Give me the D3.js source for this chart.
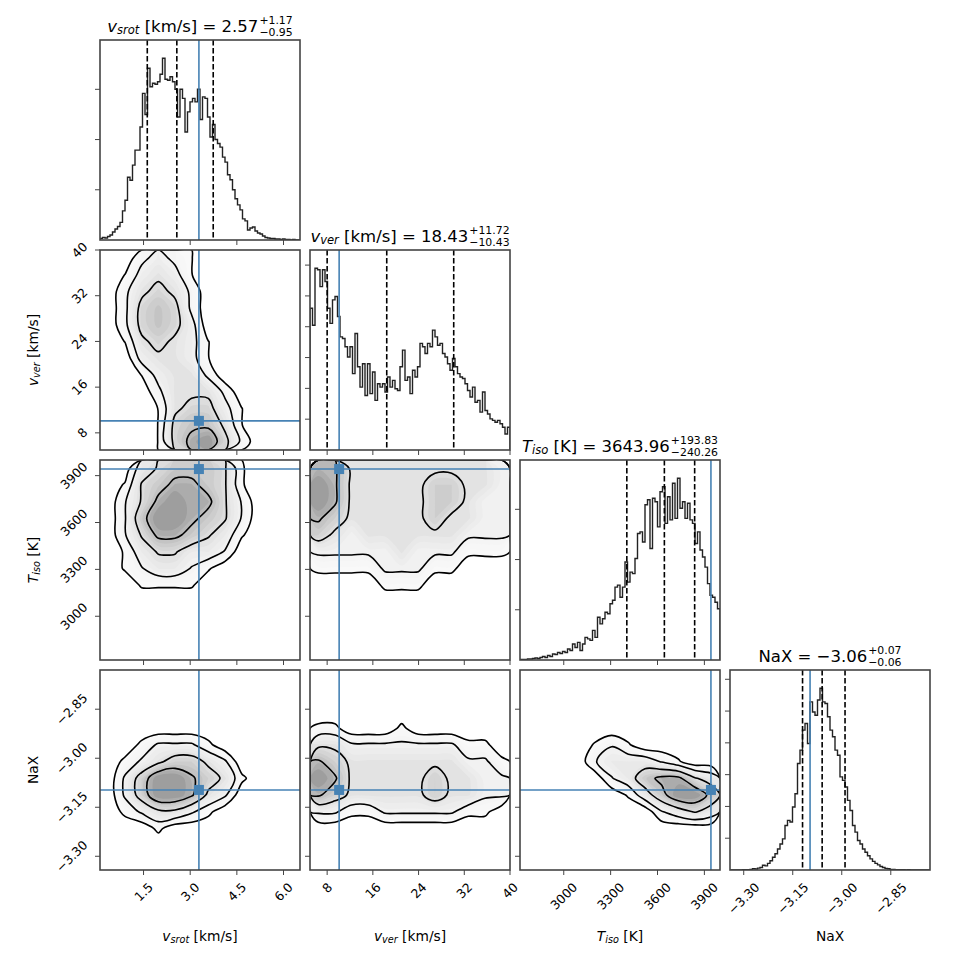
<!DOCTYPE html>
<html>
<head>
<meta charset="utf-8">
<script src="https://cdn.jsdelivr.net/npm/d3@7"></script>
<style>
  body { margin: 0; background: #fff; }
  svg text { font-family: "DejaVu Sans", sans-serif; fill: #000; }
</style>
</head>
<body>
<div id="chart"></div>
<script>
// ---- data ----
var ranges = [[0.1, 6.53], [5, 40], [2720, 4000], [-3.342, -2.73]];
var truths = [3.28, 10.1, 3942, -3.097];
var quantiles = [[1.62, 2.57, 3.74], [8.0, 18.43, 30.15], [3403.7, 3643.96, 3837.79], [-3.12, -3.06, -2.99]];
var tickVals = [[1.5, 3.0, 4.5, 6.0], [8, 16, 24, 32, 40], [3000, 3300, 3600, 3900], [-3.30, -3.15, -3.00, -2.85]];
var tickLabels = [["1.5", "3.0", "4.5", "6.0"], ["8", "16", "24", "32", "40"],
                  ["3000", "3300", "3600", "3900"], ["\u22123.30", "\u22123.15", "\u22123.00", "\u22122.85"]];

// titles: symbol, subscript, rest, upper / lower error
var titles = [
  {sym: "v", sub: "srot", rest: " [km/s] = 2.57", up: "+1.17", dn: "\u22120.95"},
  {sym: "v", sub: "ver", rest: " [km/s] = 18.43", up: "+11.72", dn: "\u221210.43"},
  {sym: "T", sub: "iso", rest: " [K] = 3643.96", up: "+193.83", dn: "\u2212240.26"},
  {sym: "", sub: "", rest: "NaX = \u22123.06", up: "+0.07", dn: "\u22120.06"}
];
var axisLabels = [
  {sym: "v", sub: "srot", rest: " [km/s]"},
  {sym: "v", sub: "ver", rest: " [km/s]"},
  {sym: "T", sub: "iso", rest: " [K]"},
  {sym: "", sub: "", rest: "NaX"}
];

// 1D histograms, 80 bins across each axis range
var histVsrot = [3,5,4,7,10,16,22,27,35,58, 79,125,119,149,179,179,225,292,250,342,
  305,312,310,315,330,362,320,318,325,315, 300,245,300,282,215,255,275,282,275,300,
  240,285,282,245,205,230,200,192,185,165, 155,130,120,100,82,70,60,42,38,20,
  24,26,18,14,12,8,5,4,3,3, 2,2,1,2,1,1,0,1,0,0];
var histVver = [460,405,590,585,530,585,547,460,411,487, 498,433,367,362,335,302,335,248,378,270,
  204,280,177,280,183,253,161,215,204,215, 188,237,204,226,199,193,270,324,226,237,
  183,259,237,270,346,335,313,346,335,389, 367,340,346,313,302,280,259,297,270,248,
  237,232,215,193,172,204,155,161,123,188, 128,117,101,96,90,96,85,74,52,74];
var histTiso = [1,1,1,2,2,3,4,3,5,7, 5,9,7,12,11,15,13,17,15,22,
  19,32,25,35,19,32,45,42,39,59, 45,85,72,82,95,92,112,119,145,149,
  125,145,195,155,175,172,202,252,255,235, 309,319,222,322,315,265,335,345,272,325,
  279,352,282,362,302,315,282,312,279,272, 232,255,219,205,185,152,129,125,115,102];
var histNaX = [0,0,0,0,0,1,1,1,2,4, 3,6,8,15,13,21,29,40,51,66,
  82,98,140,156,151,198,240,335,377,440, 461,398,529,497,487,535,572,529,524,482,
  440,419,377,361,293,282,261,219,187,140, 119,93,82,66,56,45,35,27,21,16,
  11,8,5,4,2,2,1,1,1,1, 0,1,0,0,0,0,0,0,0,0];
var hists = [histVsrot, histVver, histTiso, histNaX];
var histTicks = [[100, 200, 300], [100, 200, 300, 400, 500, 600], [100, 200, 300], [100, 200, 300, 400, 500, 600]];

// 2D densities, 12x12, first row = top of panel (largest y value)
var densVverVsrot = [
  [0,0,2,3,2,1,0,0,0,0,0,0],
  [0,1,3,4,3,1,0,0,0,0,0,0],
  [0,2,4,5,4,2,0,0,0,0,0,0],
  [0,2,5,6,5,2,0,0,0,0,0,0],
  [0,2,5,6,5,3,0,0,0,0,0,0],
  [0,1,4,5,4,3,1,0,0,0,0,0],
  [0,0,3,4,4,3,1,0,0,0,0,0],
  [0,0,1,3,4,4,2,0,0,0,0,0],
  [0,0,0,2,4,4,4,2,0,0,0,0],
  [0,0,0,1,4,5,5,3,1,0,0,0],
  [0,0,0,1,5,6,6,4,1,0,0,0],
  [0,0,0,1,5,7,8,5,2,0,0,0]];
var densTisoVsrot = [
  [0,0,3,4,5,5,5,4,1,0,0,0],
  [0,1,4,5,6,6,5,4,1,0,0,0],
  [0,2,4,6,7,6,6,4,2,0,0,0],
  [0,2,5,7,7,6,5,4,2,0,0,0],
  [0,2,4,6,6,5,4,3,1,0,0,0],
  [0,1,3,4,4,3,3,2,0,0,0,0],
  [0,1,2,3,3,2,1,0,0,0,0,0],
  [0,0,1,1,1,1,0,0,0,0,0,0],
  [0,0,0,0,0,0,0,0,0,0,0,0],
  [0,0,0,0,0,0,0,0,0,0,0,0],
  [0,0,0,0,0,0,0,0,0,0,0,0],
  [0,0,0,0,0,0,0,0,0,0,0,0]];
var densNaxVsrot = [
  [0,0,0,0,0,0,0,0,0,0,0,0],
  [0,0,0,0,0,0,0,0,0,0,0,0],
  [0,0,0,0,0,0,0,0,0,0,0,0],
  [0,0,0,0,0,0,0,0,0,0,0,0],
  [0,0,1,2,2,2,1,0,0,0,0,0],
  [0,1,2,3,4,4,3,2,0,0,0,0],
  [0,2,4,6,6,5,4,3,1,0,0,0],
  [0,2,4,6,6,5,3,2,0,0,0,0],
  [0,1,2,3,3,2,1,0,0,0,0,0],
  [0,0,0,1,0,0,0,0,0,0,0,0],
  [0,0,0,0,0,0,0,0,0,0,0,0],
  [0,0,0,0,0,0,0,0,0,0,0,0]];
var densTisoVver = [
  [5,5,3,3,3,3,3,3,3,3,3,2],
  [6,5,3,3,3,3,3,4,4,3,3,2],
  [6,5,3,3,3,3,3,4,4,3,2,2],
  [5,4,3,3,3,3,3,4,3,3,2,2],
  [4,3,2,3,3,3,3,3,3,2,2,2],
  [2,2,2,2,2,3,2,2,2,1,1,1],
  [1,1,1,1,2,2,2,1,1,0,0,0],
  [0,0,0,0,1,1,1,0,0,0,0,0],
  [0,0,0,0,0,0,0,0,0,0,0,0],
  [0,0,0,0,0,0,0,0,0,0,0,0],
  [0,0,0,0,0,0,0,0,0,0,0,0],
  [0,0,0,0,0,0,0,0,0,0,0,0]];
var densNaxVver = [
  [0,0,0,0,0,0,0,0,0,0,0,0],
  [0,0,0,0,0,0,0,0,0,0,0,0],
  [0,0,0,0,0,0,0,0,0,0,0,0],
  [1,1,0,0,0,1,0,0,0,0,0,0],
  [3,3,2,2,2,2,2,2,2,1,1,0],
  [5,4,3,3,3,3,3,3,3,2,2,1],
  [6,5,3,3,3,3,3,4,3,3,2,2],
  [5,4,3,3,3,3,3,4,3,3,2,2],
  [2,2,1,1,2,2,2,2,2,1,1,0],
  [0,0,0,0,0,0,0,0,0,0,0,0],
  [0,0,0,0,0,0,0,0,0,0,0,0],
  [0,0,0,0,0,0,0,0,0,0,0,0]];
var densNaxTiso = [
  [0,0,0,0,0,0,0,0,0,0,0,0],
  [0,0,0,0,0,0,0,0,0,0,0,0],
  [0,0,0,0,0,0,0,0,0,0,0,0],
  [0,0,0,0,0,0,0,0,0,0,0,0],
  [0,0,0,0,1,2,1,0,0,0,0,0],
  [0,0,0,0,2,3,3,3,2,1,0,0],
  [0,0,0,0,0,2,3,5,6,6,4,3],
  [0,0,0,0,0,0,1,3,5,7,7,5],
  [0,0,0,0,0,0,0,0,2,3,4,3],
  [0,0,0,0,0,0,0,0,0,0,0,0],
  [0,0,0,0,0,0,0,0,0,0,0,0],
  [0,0,0,0,0,0,0,0,0,0,0,0]];
var densities = {"1-0": densVverVsrot, "2-0": densTisoVsrot, "3-0": densNaxVsrot,
                 "2-1": densTisoVver, "3-1": densNaxVver, "3-2": densNaxTiso};
var contourFracs = [0.12, 0.3, 0.55, 0.8];

// ---- layout ----
var P = 200;
var panelX = [100, 310, 520, 730];
var panelY = [40, 250, 460, 670];
var BLUE = "#4682b4";
var FRAME = "#444";

var svg = d3.select("#chart").append("svg").attr("width", 970).attr("height", 970);
var defs = svg.append("defs");

var xScales = ranges.map(function(r, i){ return d3.scaleLinear().domain(r).range([panelX[i], panelX[i] + P]); });
var yScales = ranges.map(function(r, i){ return d3.scaleLinear().domain(r).range([panelY[i] + P, panelY[i]]); });

// text with italic symbol + subscript, optional stacked error terms
function mathText(g, cx, baseline, p, size){
  var t = g.append("text").attr("y", baseline).style("font-size", size + "px");
  if (p.sym) {
    t.append("tspan").style("font-style", "italic").text(p.sym);
    t.append("tspan").style("font-style", "italic").style("font-size", (size * 0.7) + "px")
      .attr("dy", size * 0.18).text(p.sub);
    t.append("tspan").attr("dy", -size * 0.18).text(p.rest);
  } else {
    t.append("tspan").text(p.rest);
  }
  var w = t.node().getComputedTextLength();
  var total = w;
  var up, dn;
  if (p.up) {
    var es = size * 0.66;
    up = g.append("text").attr("y", baseline - size * 0.44).style("font-size", es + "px").text(p.up);
    dn = g.append("text").attr("y", baseline + size * 0.3).style("font-size", es + "px").text(p.dn);
    total = w + 1 + Math.max(up.node().getComputedTextLength(), dn.node().getComputedTextLength());
  }
  var x0 = cx - total / 2;
  t.attr("x", x0);
  if (up) { up.attr("x", x0 + w + 1); dn.attr("x", x0 + w + 1); }
}

function rotLabel(x, y, txt, mode){
  var fs = 12.5;
  var t = svg.append("text").style("font-size", fs + "px")
    .attr("text-anchor", "middle").attr("dominant-baseline", "central").text(txt);
  var w = t.node().getComputedTextLength(), h = fs * 1.16;
  var b = (w + h) * Math.SQRT1_2;
  var cx, cy;
  if (mode == "x") { cx = x; cy = y + 9.7 + b / 2; }
  else { cx = x - 9.7 - b / 2; cy = y; }
  t.attr("transform", "translate(" + cx + "," + cy + ") rotate(-45)");
}

function drawTicks(g, r, c, hy){
  var bottom = panelY[r] + P, left = panelX[c];
  tickVals[c].forEach(function(v, k){
    var x = xScales[c](v);
    g.append("line").attr("x1", x).attr("x2", x).attr("y1", bottom).attr("y2", bottom + 5)
      .attr("stroke", FRAME).attr("stroke-width", 1);
    if (r == 3) rotLabel(x, bottom, tickLabels[c][k], "x");
  });
  var yv = r == c ? histTicks[c] : tickVals[r];
  var ys = r == c ? hy : yScales[r];
  yv.forEach(function(v, k){
    var y = ys(v);
    g.append("line").attr("x1", left - 5).attr("x2", left).attr("y1", y).attr("y2", y)
      .attr("stroke", FRAME).attr("stroke-width", 1);
    if (c == 0 && r > 0) rotLabel(left, y, tickLabels[r][k], "y");
  });
}

function drawFrame(g, r, c){
  g.append("rect").attr("x", panelX[c]).attr("y", panelY[r]).attr("width", P).attr("height", P)
    .attr("fill", "none").attr("stroke", FRAME).attr("stroke-width", 1.6);
}

// ---- panels ----
for (var r = 0; r < 4; r++) {
  for (var c = 0; c <= r; c++) {
    var id = "clip" + r + c;
    defs.append("clipPath").attr("id", id).append("rect")
      .attr("x", panelX[c]).attr("y", panelY[r]).attr("width", P).attr("height", P);
    var g = svg.append("g");
    var inner = g.append("g").attr("clip-path", "url(#" + id + ")");
    var pTop = panelY[r], pBot = panelY[r] + P;

    if (r == c) {
      var hist = hists[c], n = hist.length, rg = ranges[c];
      var hy = d3.scaleLinear().domain([0, 1.1 * d3.max(hist)]).range([pBot, pTop]);
      var edge = function(k){ return rg[0] + (rg[1] - rg[0]) * k / n; };
      var pts = [[edge(0), 0]];
      hist.forEach(function(v, k){ pts.push([edge(k), v]); pts.push([edge(k + 1), v]); });
      pts.push([edge(n), 0]);
      var xs = xScales[c];
      inner.append("path")
        .attr("d", d3.line().x(function(d){ return xs(d[0]); }).y(function(d){ return hy(d[1]); })(pts))
        .attr("fill", "none").attr("stroke", "#222").attr("stroke-width", 1.4);
      quantiles[c].forEach(function(q){
        inner.append("line").attr("x1", xs(q)).attr("x2", xs(q)).attr("y1", pTop).attr("y2", pBot)
          .attr("stroke", "#000").attr("stroke-width", 1.6).attr("stroke-dasharray", "5.5,2.5");
      });
      inner.append("line").attr("x1", xs(truths[c])).attr("x2", xs(truths[c])).attr("y1", pTop).attr("y2", pBot)
        .attr("stroke", BLUE).attr("stroke-width", 1.6);
      drawTicks(g, r, c, hy);
      drawFrame(g, r, c);
      mathText(g, panelX[c] + P / 2, pTop - 8.5, titles[c], 16.5);
    } else {
      var grid = densities[r + "-" + c];
      var ny = grid.length, nx = grid[0].length;
      var vals = [].concat.apply([], grid);
      var vmax = d3.max(vals);
      var gx = d3.scaleLinear().domain([0, nx]).range([panelX[c], panelX[c] + P]);
      var gy = d3.scaleLinear().domain([0, ny]).range([pTop, pBot]);
      var ring = d3.line().x(function(p){ return gx(p[0]); }).y(function(p){ return gy(p[1]); })
        .curve(d3.curveCatmullRomClosed.alpha(0.5));
      var toPath = function(geom){
        return geom.coordinates.map(function(poly){
          return poly.map(function(rr){ return ring(rr.slice(0, -1)); }).join("");
        }).join("");
      };
      var gen = d3.contours().size([nx, ny]);
      // grey density fill inside outer contour
      var fillTh = d3.range(14).map(function(k){ return vmax * (contourFracs[0] + (0.97 - contourFracs[0]) * k / 14); });
      gen.thresholds(fillTh)(vals).forEach(function(geom){
        var t = geom.value / vmax;
        inner.append("path").attr("d", toPath(geom)).attr("fill-rule", "evenodd")
          .attr("fill", d3.interpolateGreys(0.03 + 0.52 * Math.pow(t, 1.6)));
      });
      // contour lines
      gen.thresholds(contourFracs.map(function(f){ return f * vmax; }))(vals).forEach(function(geom){
        inner.append("path").attr("d", toPath(geom)).attr("fill", "none")
          .attr("stroke", "#000").attr("stroke-width", 1.6);
      });
      var tx = xScales[c](truths[c]), ty = yScales[r](truths[r]);
      inner.append("line").attr("x1", tx).attr("x2", tx).attr("y1", pTop).attr("y2", pBot)
        .attr("stroke", BLUE).attr("stroke-width", 1.6);
      inner.append("line").attr("x1", panelX[c]).attr("x2", panelX[c] + P).attr("y1", ty).attr("y2", ty)
        .attr("stroke", BLUE).attr("stroke-width", 1.6);
      inner.append("rect").attr("x", tx - 5).attr("y", ty - 5).attr("width", 10).attr("height", 10)
        .attr("fill", BLUE);
      drawTicks(g, r, c);
      drawFrame(g, r, c);
    }
  }
}

// axis labels
axisLabels.forEach(function(p, i){
  mathText(svg, panelX[i] + P / 2, 941, p, 13.8);
  if (i > 0) {
    var gl = svg.append("g").attr("transform", "translate(38," + (panelY[i] + P / 2) + ") rotate(-90)");
    mathText(gl, 0, 0, p, 13.8);
  }
});
</script>
</body>
</html>
